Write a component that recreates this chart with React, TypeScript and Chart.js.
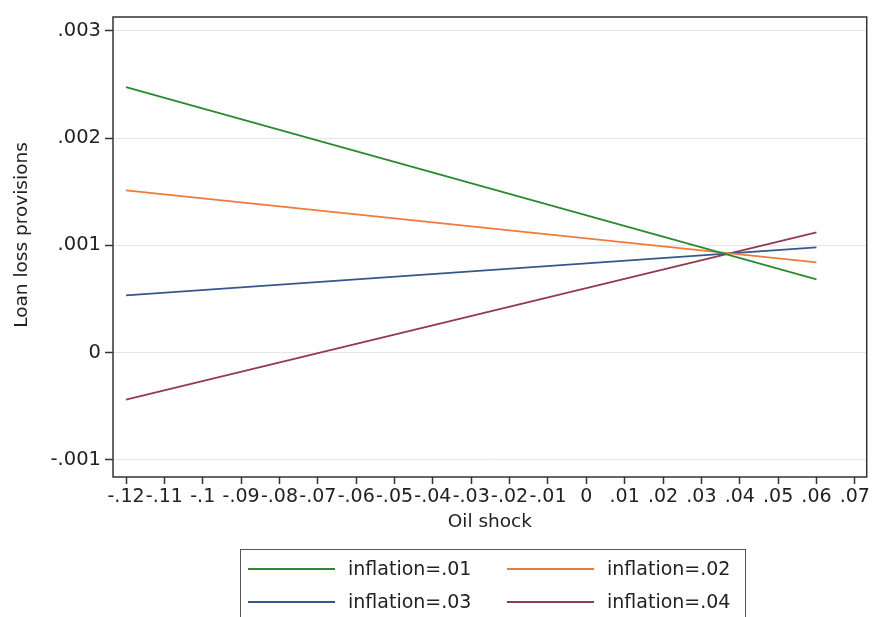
import React, { useEffect, useRef } from "react";
import { Chart, registerables } from "chart.js";

Chart.register(...registerables);

const oilShock = [-0.12, 0.06];
const inflation01 = [0.002477, 0.000682];
const inflation02 = [0.001514, 0.000841];
const inflation03 = [0.000533, 0.000981];
const inflation04 = [-0.000439, 0.001121];
const seriesLabels = ["inflation=.01", "inflation=.02", "inflation=.03", "inflation=.04"];
const seriesColors = ["#2b8a2f", "#f07a3a", "#35588a", "#923a52"];
const xTicks = [-0.12, -0.11, -0.1, -0.09, -0.08, -0.07, -0.06, -0.05, -0.04, -0.03, -0.02, -0.01, 0, 0.01, 0.02, 0.03, 0.04, 0.05, 0.06, 0.07];
const yTicks = [-0.001, 0, 0.001, 0.002, 0.003];
const xTitle = "Oil shock";
const yTitle = "Loan loss provisions";

const FONT = "'DejaVu Sans', Verdana, sans-serif";
const TEXT = "#222222";
const AXIS = "#333333";

function stataFmt(v: number, digits: number): string {
  const r = Math.round(v * Math.pow(10, digits)) / Math.pow(10, digits);
  if (Math.abs(r) < 1e-12) return "0";
  let s = r.toFixed(digits).replace(/0+$/, "").replace(/\.$/, "");
  s = s.replace(/^(-?)0\./, "$1.");
  return s;
}

const frameAndLegend = {
  id: "frameAndLegend",
  afterDatasetsDraw(chart: any) {
    const { ctx, chartArea } = chart;
    ctx.save();
    ctx.strokeStyle = AXIS;
    ctx.lineWidth = 1.5;
    ctx.strokeRect(chartArea.left, chartArea.top, chartArea.right - chartArea.left, chartArea.bottom - chartArea.top);
    ctx.restore();
  },
  afterDraw(chart: any) {
    const { ctx, chartArea } = chart;
    ctx.save();
    // axis titles
    ctx.fillStyle = TEXT;
    ctx.textBaseline = "middle";
    ctx.textAlign = "center";
    ctx.font = `18.5px ${FONT}`;
    ctx.fillText(xTitle, (chartArea.left + chartArea.right) / 2, 522);
    ctx.save();
    ctx.translate(22, 235);
    ctx.rotate(-Math.PI / 2);
    ctx.fillText(yTitle, 0, 0);
    ctx.restore();

    // legend box
    const bx = 240, by = 549, bw = 505, bh = 80;
    ctx.strokeStyle = "#555555";
    ctx.lineWidth = 1;
    ctx.strokeRect(bx + 0.5, by + 0.5, bw, bh);
    const cols = [248, 507];
    const rows = [569, 602];
    ctx.font = `19px ${FONT}`;
    ctx.textBaseline = "middle";
    ctx.textAlign = "left";
    seriesLabels.forEach((lab, i) => {
      const cx = cols[i % 2];
      const cy = rows[Math.floor(i / 2)];
      ctx.strokeStyle = seriesColors[i];
      ctx.lineWidth = 1.8;
      ctx.beginPath();
      ctx.moveTo(cx, cy);
      ctx.lineTo(cx + 87, cy);
      ctx.stroke();
      ctx.fillStyle = TEXT;
      ctx.fillText(lab, cx + 100, cy + 1);
    });
    ctx.restore();
  },
};

export default function App() {
  const ref = useRef<HTMLCanvasElement | null>(null);
  useEffect(() => {
    document.body.style.margin = "0";
    const canvas = ref.current!;
    const seriesData = [inflation01, inflation02, inflation03, inflation04];
    const chart = new Chart(canvas, {
      type: "line",
      data: {
        datasets: seriesData.map((vals, i) => ({
          label: seriesLabels[i],
          data: oilShock.map((x, j) => ({ x, y: vals[j] })),
          borderColor: seriesColors[i],
          backgroundColor: seriesColors[i],
          borderWidth: 1.8,
          pointRadius: 0,
          fill: false,
          tension: 0,
        })),
      },
      options: {
        responsive: false,
        animation: false,
        devicePixelRatio: 1,
        layout: { padding: { left: 0, right: 4, top: 17, bottom: 72 } },
        plugins: {
          legend: { display: false },
          tooltip: { enabled: false },
        },
        scales: {
          x: {
            type: "linear",
            min: -0.1234,
            max: 0.0731,
            afterBuildTicks: (axis: any) => {
              axis.ticks = xTicks.map((v) => ({ value: v }));
            },
            afterFit: (axis: any) => {
              axis.height = 68;
            },
            border: { display: false },
            grid: { display: true, drawOnChartArea: false, drawTicks: true, tickLength: 7, tickColor: AXIS, tickWidth: 1.5 },
            ticks: {
              autoSkip: false,
              maxRotation: 0,
              minRotation: 0,
              padding: 2,
              color: TEXT,
              font: { family: FONT, size: 19 },
              callback: (v: any) => stataFmt(Number(v), 2),
            },
            title: { display: false },
          },
          y: {
            type: "linear",
            min: -0.00116,
            max: 0.00313,
            afterBuildTicks: (axis: any) => {
              axis.ticks = yTicks.map((v) => ({ value: v }));
            },
            afterFit: (axis: any) => {
              axis.width = 113;
            },
            border: { display: false },
            grid: { display: true, color: "#e6e6e6", lineWidth: 1, drawTicks: true, tickLength: 8, tickColor: AXIS, tickWidth: 1.5 },
            ticks: {
              padding: 4,
              color: TEXT,
              font: { family: FONT, size: 19.5 },
              callback: (v: any) => stataFmt(Number(v), 3),
            },
            title: { display: false },
          },
        },
      },
      plugins: [frameAndLegend],
    });
    return () => chart.destroy();
  }, []);
  return (
    <div style={{ width: 872, height: 617, background: "#ffffff" }}>
      <canvas ref={ref} width={872} height={617} style={{ display: "block", width: 872, height: 617 }} />
    </div>
  );
}
